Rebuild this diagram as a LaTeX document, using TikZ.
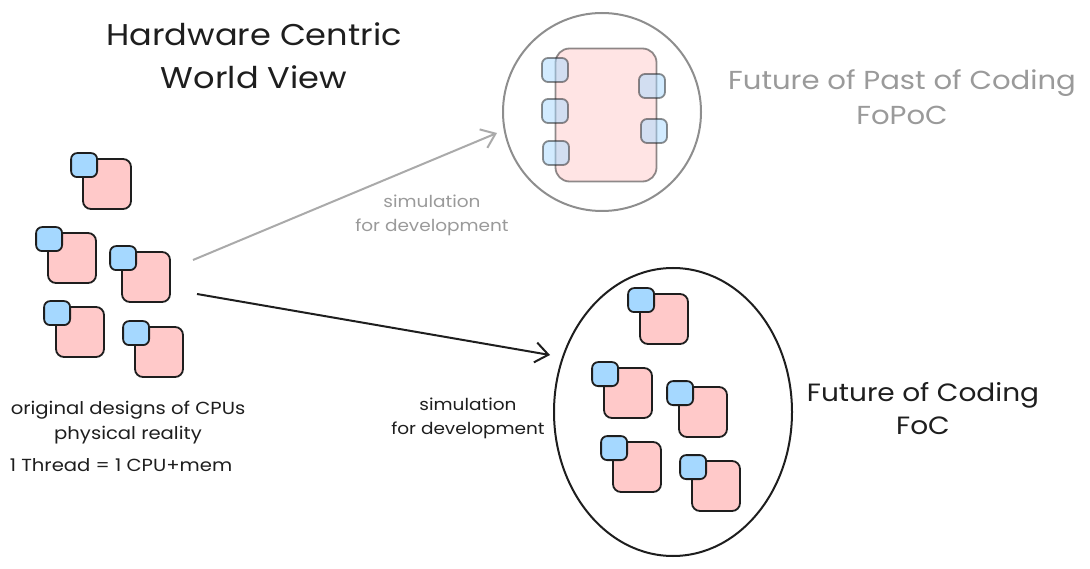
\documentclass[tikz,border=0pt]{standalone}
\usepackage{fontspec}
\setmainfont[FakeStretch=1.12]{Poppins}
\usepackage{tikz}
\usetikzlibrary{arrows.meta,shapes.geometric,positioning}

\definecolor{ink}{HTML}{1E1E1E}
\definecolor{cpupink}{HTML}{FFC9C9}
\definecolor{memblue}{HTML}{A5D8FF}
\definecolor{fadegray}{HTML}{9A9A9A}
\definecolor{arrowgray}{HTML}{AAAAAA}

\begin{document}
\begin{tikzpicture}[x=1pt,y=-1pt]
% Sketch style
\tikzset{
    cpu/.style={draw=ink, fill=cpupink, line width=1.8pt, rounded corners=8pt,
        minimum width=48pt, minimum height=50pt, inner sep=0pt},
    mem/.style={draw=ink, fill=memblue, line width=1.8pt, rounded corners=6pt,
        minimum width=26pt, minimum height=24pt, inner sep=0pt},
    faded/.style={opacity=0.5},
    bigtext/.style={font=\fontsize{30}{43}\selectfont, text=ink, align=center},
    midtext/.style={font=\fontsize{26}{35}\selectfont, align=center},
    smalltext/.style={font=\fontsize{17.5}{25}\selectfont, align=center},
    simtext/.style={font=\fontsize{16.5}{24}\selectfont, align=center},
    sketcharrow/.style={line width=2pt, -{Straight Barb[length=13pt,width=20pt]}}
}
\useasboundingbox (0,0) rectangle (1090,569);
% Title
\draw (254,56) node[bigtext] (Title){Hardware Centric\\World View};
% Hardware CPUs
\draw (107,184) node[cpu] (Cpua){};
\draw (72,258) node[cpu] (Cpub){};
\draw (146,277) node[cpu] (Cpuc){};
\draw (80,332) node[cpu] (Cpud){};
\draw (159,352) node[cpu] (Cpue){};
\draw (Cpua.north west) ++(2,7) node[mem] (Mema){};
\draw (Cpub.north west) ++(2,7) node[mem] (Memb){};
\draw (Cpuc.north west) ++(2,7) node[mem] (Memc){};
\draw (Cpud.north west) ++(2,7) node[mem] (Memd){};
\draw (Cpue.north west) ++(2,7) node[mem] (Meme){};
\draw (128,423) node[smalltext, text=ink] (Origin){original designs of CPUs\\physical reality};
\draw (121,465) node[smalltext, text=ink] (Thread){1 Thread = 1 CPU+mem};
% Future of Past of Coding
\draw (602,112) node[circle, draw=ink, faded, line width=2pt, minimum size=198pt] (Fopoc){};
\draw (606,115) node[cpu, faded, minimum width=101pt, minimum height=133pt, rounded corners=14pt] (Core){};
\draw (555,70) node[mem, faded] (Porta){};
\draw (555,111) node[mem, faded] (Portb){};
\draw (556,153) node[mem, faded] (Portc){};
\draw (652,86) node[mem, faded] (Portd){};
\draw (654,131) node[mem, faded] (Porte){};
\draw (902,97) node[midtext, text=fadegray] (Pastlabel){Future of Past of Coding\\FoPoC};
% Future of Coding
\draw (673,412) node[ellipse, draw=ink, line width=2pt, minimum width=238pt, minimum height=288pt] (Foc){};
\draw (664,319) node[cpu] (Cpuf){};
\draw (628,393) node[cpu] (Cpug){};
\draw (703,412) node[cpu] (Cpuh){};
\draw (637,467) node[cpu] (Cpui){};
\draw (716,486) node[cpu] (Cpuj){};
\draw (Cpuf.north west) ++(2,7) node[mem] (Memf){};
\draw (Cpug.north west) ++(2,7) node[mem] (Memg){};
\draw (Cpuh.north west) ++(2,7) node[mem] (Memh){};
\draw (Cpui.north west) ++(2,7) node[mem] (Memi){};
\draw (Cpuj.north west) ++(2,7) node[mem] (Memj){};
\draw (923,409) node[midtext, text=ink, font=\fontsize{25}{33}\selectfont] (Foclabel){Future of Coding\\FoC};
% Simulation arrows
\coordinate (Srca) at (193,260);
\coordinate (Tipa) at (497,133);
\coordinate (Srcb) at (197,294);
\coordinate (Tipb) at (550,355);
\draw[sketcharrow, arrowgray] (Srca) -- (Tipa);
\draw[sketcharrow, ink] (Srcb) -- (Tipb);
\draw (432,215) node[simtext, text=fadegray] (Simpast){simulation\\for development};
\draw (468,418) node[simtext, text=ink] (Simfut){simulation\\for development};
\end{tikzpicture}
\end{document}
